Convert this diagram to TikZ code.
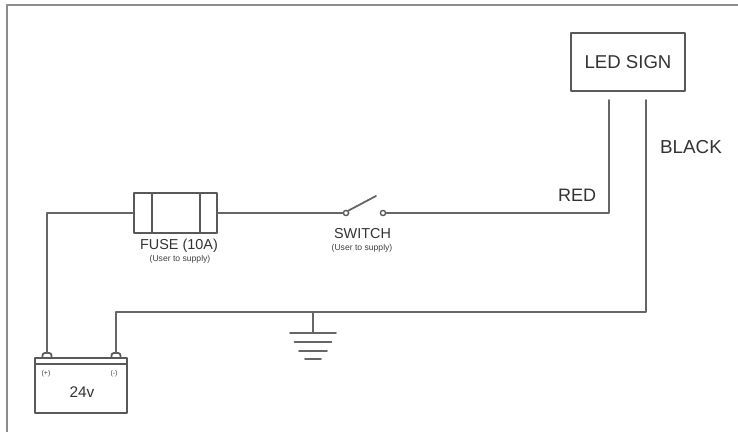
\documentclass[tikz,border=0pt]{standalone}
\usepackage{fontspec}
\setmainfont{Liberation Sans}
\usetikzlibrary{positioning}
\begin{document}
\begin{tikzpicture}[x=0.5pt,y=-0.5pt,line join=round,line cap=round,
	wire/.style={draw=black!60,line width=0.9pt},
	part/.style={draw=black!65,line width=0.9pt,inner sep=0pt},
	term/.style={circle,draw=black!65,fill=white,line width=0.7pt,inner sep=0pt,minimum size=2.6pt},
	lbl/.style={text=black!80,inner sep=0pt,font=\fontsize{7.2}{8}\selectfont},
	note/.style={text=black!75,inner sep=0pt,font=\fontsize{4.3}{5}\selectfont}]
	\useasboundingbox (0,0) rectangle (738,432);
	\draw[black!45,line width=0.8pt] (7,432)--(7,5)--(738,5);
	% parts
	\node[part,minimum width=57pt,minimum height=29pt,text=black!80,font=\fontsize{9.3}{11}\selectfont] (sign) at (628,62) {LED SIGN};
	\node[part,minimum width=41.5pt,minimum height=20pt] (fuse) at (175.5,213) {};
	\draw[part,line cap=butt] ([xshift=9.5pt]fuse.north west)--([xshift=9.5pt]fuse.south west)
		([xshift=-9pt]fuse.north east)--([xshift=-9pt]fuse.south east);
	\node[part,minimum width=46pt,minimum height=27.5pt] (bat) at (81,385.5) {};
	\draw[part,line cap=butt] ([yshift=-3.5pt]bat.north west)--([yshift=-3.5pt]bat.north east);
	\draw[part,rounded corners=1.2pt] (42.5,358)|-(51.5,353)--(51.5,358)
		(111.5,358)|-(120.5,353)--(120.5,358);
	\node[term] (swl) at (346,213) {};
	\node[term] (swr) at (383,213) {};
	\coordinate (bpos) at (47,353);
	\coordinate (bneg) at (116,353);
	\coordinate (redtop) at (609,100);
	\coordinate (blacktop) at (646,100);
	\coordinate (gnd) at (313,312);
	\coordinate (gndbar) at (313,333);
	% wires
	\draw[wire] (fuse.west) -| (bpos);
	\draw[wire] (fuse.east) -- (swl.west);
	\draw[wire] (swl.north east) -- (376,196);
	\draw[wire] (swr.east) -| (redtop);
	\draw[wire] (blacktop) |- (gnd) -| (bneg);
	\draw[wire] (gnd) -- (gndbar);
	\foreach \dy/\w in {333/23,342/18.5,351/14,359/8}
		\draw[wire] (313-\w,\dy)--(313+\w,\dy);
	% labels
	\node[lbl] (fuselbl) at (179,245.5) {FUSE (10A)};
	\node[note] (fusenote) at (180,259.5) {(User to supply)};
	\node[lbl] (swlbl) at (362.5,234) {SWITCH};
	\node[note] (swnote) at (362,248) {(User to supply)};
	\node[lbl,font=\fontsize{9}{10}\selectfont] (redlbl) at (577,195) {RED};
	\node[lbl,font=\fontsize{9.4}{10}\selectfont] (blacklbl) at (691,147) {BLACK};
	\node[lbl,font=\fontsize{7.7}{9}\selectfont] (batlbl) at (82,392) {24v};
	\node[note,font=\fontsize{3.5}{4}\selectfont] (pos) at (46,374) {(+)};
	\node[note,font=\fontsize{3.5}{4}\selectfont] (neg) at (114,374) {(-)};
\end{tikzpicture}
\end{document}
